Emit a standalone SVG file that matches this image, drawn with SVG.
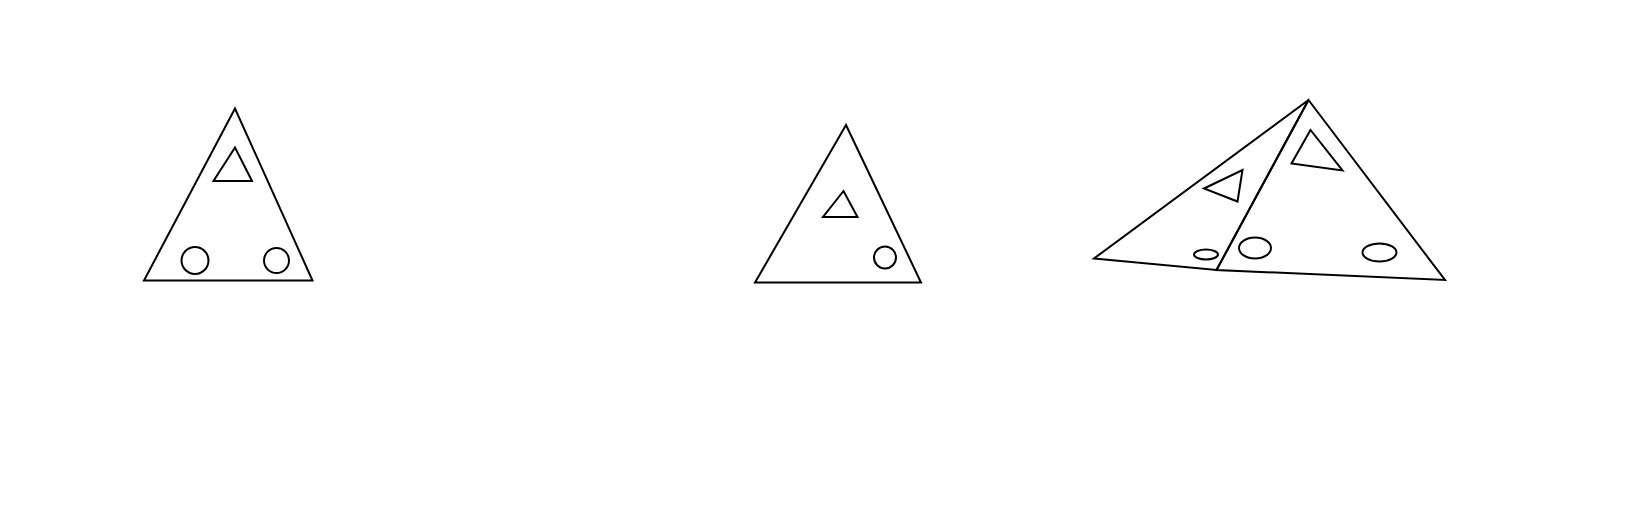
<svg xmlns="http://www.w3.org/2000/svg" width="1640" height="520" viewBox="0 0 1640 520">
<style>
.s{fill:none;stroke:#000;stroke-width:2;stroke-linejoin:miter}
</style>
<rect width="1640" height="520" fill="#fff"/>
<g id="fig1">
<polygon class="s" points="235,108.5 144,280.5 312.5,280.5"/>
<polygon class="s" points="235,147.5 213.5,181 252,181"/>
<circle class="s" cx="195" cy="260.5" r="13.5"/>
<circle class="s" cx="276.5" cy="260.5" r="12.5"/>
</g>
<g id="fig2">
<polygon class="s" points="846,125 755,282.5 921,282.5"/>
<polygon class="s" points="843.5,191 823,217 857.5,217"/>
<circle class="s" cx="885" cy="257.5" r="11"/>
</g>
<g id="fig3">
<polygon class="s" points="1308.5,100 1094,258.5 1216.5,270"/>
<polygon class="s" points="1308.5,100 1216.5,270 1445,280"/>
<polygon class="s" points="1204,188.5 1242.5,170 1237.5,201.5"/>
<polygon class="s" points="1310.5,130 1291.5,163.5 1342.5,170.5"/>
<ellipse class="s" cx="1206" cy="254.5" rx="12" ry="5"/>
<ellipse class="s" cx="1255" cy="248" rx="16" ry="10.5"/>
<ellipse class="s" cx="1379.5" cy="252.5" rx="17" ry="9"/>
</g>
</svg>
